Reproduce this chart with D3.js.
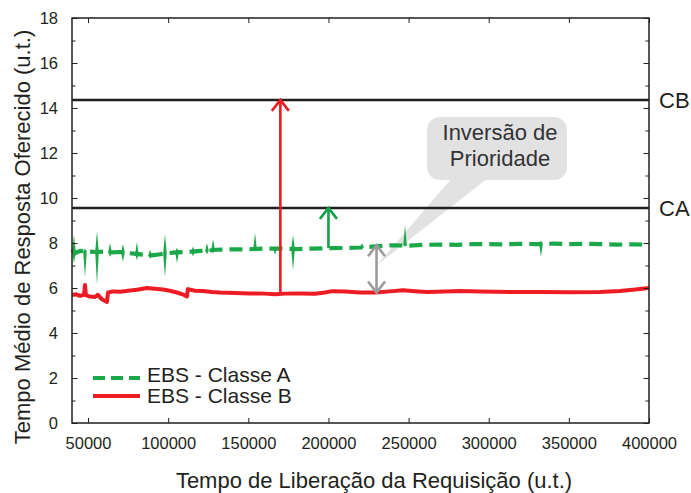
<!DOCTYPE html>
<html>
<head>
<meta charset="utf-8">
<script src="https://cdn.jsdelivr.net/npm/d3@7"></script>
<style>
  body { margin: 0; background: #fff; }
  svg { display: block; }
  text { font-family: "Liberation Sans", Arial, Helvetica, sans-serif; fill: #231f20; }
</style>
</head>
<body>
<svg id="chart" width="691" height="493"></svg>
<script>
// Mean offered response time, class B (solid red)
const classB = [
  [40000, 5.69], [42500, 5.72], [45000, 5.65], [47500, 5.70], [48100, 6.13], [48700, 5.68],
  [51200, 5.62], [54350, 5.60], [56000, 5.70], [58700, 5.50], [61800, 5.38], [62500, 5.80],
  [65600, 5.85], [70000, 5.83], [75000, 5.88], [80500, 5.92], [86800, 6.00], [91800, 5.97],
  [96800, 5.93], [101000, 5.88], [105500, 5.80], [109000, 5.72], [111700, 5.62], [112300, 5.95],
  [116700, 5.88], [121700, 5.87], [127300, 5.82], [132300, 5.80], [141700, 5.78], [151000, 5.76],
  [160400, 5.75], [166600, 5.72], [173000, 5.75], [182300, 5.76], [191600, 5.74], [197900, 5.80],
  [202200, 5.86], [210300, 5.84], [219700, 5.80], [229000, 5.80], [238400, 5.85], [246500, 5.90],
  [254000, 5.86], [261500, 5.82], [272700, 5.84], [282100, 5.87], [294600, 5.84], [313300, 5.82],
  [332000, 5.82], [350700, 5.81], [369400, 5.82], [381900, 5.87], [391300, 5.93], [400000, 6.00]
];

// Mean offered response time, class A (dashed green)
const classA = [
  [40000, 7.70], [42000, 7.55], [45000, 7.65], [50000, 7.62], [55000, 7.60], [60000, 7.62],
  [65000, 7.58], [70000, 7.60], [75000, 7.55], [80000, 7.52], [85000, 7.48], [90000, 7.45],
  [95000, 7.50], [100000, 7.55], [105000, 7.58], [110000, 7.60], [115000, 7.62], [120000, 7.65],
  [125000, 7.66], [130000, 7.70], [140000, 7.72], [150000, 7.72], [160000, 7.75], [170000, 7.75],
  [180000, 7.73], [190000, 7.75], [200000, 7.77], [210000, 7.78], [220000, 7.80], [230000, 7.85],
  [240000, 7.90], [250000, 7.88], [260000, 7.92], [270000, 7.93], [280000, 7.92], [290000, 7.95],
  [300000, 7.95], [310000, 7.94], [320000, 7.96], [330000, 7.95], [340000, 7.97], [350000, 7.95],
  [360000, 7.96], [370000, 7.95], [380000, 7.93], [390000, 7.94], [400000, 7.93]
];

// Short excursions of class A: [time, peak, trough]
const classASpikes = [
  [41250, 8.36, 7.10], [48100, 7.75, 6.49], [55600, 8.53, 6.18], [63700, 8.00, 7.38],
  [71800, 7.96, 7.16], [80500, 8.04, 7.24], [88700, 7.70, 7.30], [98000, 8.40, 6.49],
  [105500, 7.80, 7.10], [115500, 7.85, 7.40], [124200, 8.00, 7.50], [128000, 8.18, 7.55],
  [154200, 8.44, 7.65], [166700, 7.80, 7.47], [177900, 8.36, 6.80], [221000, 8.00, 7.75],
  [247800, 8.80, 7.85], [332600, 8.10, 7.38]
];

// Response-time bounds per class
const boundLabels = ["CB", "CA"];
const boundValues = [14.36, 9.56];

// Annotation arrows: time, from value, to value, colour, double-headed
const arrowTimes  = [170000, 200000, 230000];
const arrowFrom   = [5.78, 7.77, 5.80];
const arrowTo     = [14.36, 9.56, 7.90];
const arrowColors = ["#ed1c24", "#15a04a", "#9b9b9b"];
const arrowDouble = [false, false, true];

const xTickValues = [50000, 100000, 150000, 200000, 250000, 300000, 350000, 400000];
const yTickValues = d3.range(0, 19, 1);

const seriesNames = ["EBS - Classe A", "EBS - Classe B"];
const calloutLines = ["Inversão de", "Prioridade"];

const plot = { left: 72, right: 649, top: 18, bottom: 423 };
const GREEN = "#1aa84b", RED = "#ed1c24", INK = "#231f20";

const svg = d3.select("#chart");
const x = d3.scaleLinear().domain([40000, 400000]).range([plot.left, plot.right]);
const y = d3.scaleLinear().domain([0, 18]).range([plot.bottom, plot.top]);

// Callout bubble (behind the data)
const callout = svg.append("g");
callout.append("path")
  .attr("d", `M452,178 L488,178 L${x(230000)},${y(7.0)} Z`)
  .attr("fill", "#e2e2e3");
callout.append("rect")
  .attr("x", 427).attr("y", 117).attr("width", 140).attr("height", 63)
  .attr("rx", 13).attr("fill", "#e2e2e3");
callout.selectAll("text").data(calloutLines).join("text")
  .attr("x", 500).attr("y", (d, i) => 140 + i * 26)
  .attr("text-anchor", "middle")
  .attr("font-size", 22)
  .style("fill", "#333")
  .text(d => d);

// Bound lines
svg.append("g").selectAll("line").data(boundValues).join("line")
  .attr("x1", plot.left).attr("x2", plot.right)
  .attr("y1", d => y(d)).attr("y2", d => y(d))
  .attr("stroke", INK).attr("stroke-width", 2.5);
svg.append("g").selectAll("text").data(boundValues).join("text")
  .attr("x", 659).attr("y", d => y(d) + 8)
  .attr("font-size", 22)
  .text((d, i) => boundLabels[i]);

const line = d3.line().x(d => x(d[0])).y(d => y(d[1]));

// Class B
svg.append("path").datum(classB)
  .attr("d", line)
  .attr("fill", "none").attr("stroke", RED).attr("stroke-width", 4)
  .attr("stroke-linejoin", "round");

// Class A excursions
function baseAt(t) {
  const i = d3.bisector(d => d[0]).left(classA, t);
  if (i <= 0) return classA[0][1];
  if (i >= classA.length) return classA[classA.length - 1][1];
  const a = classA[i - 1], b = classA[i];
  return a[1] + (b[1] - a[1]) * (t - a[0]) / (b[0] - a[0]);
}
svg.append("g").selectAll("path").data(classASpikes).join("path")
  .attr("d", d => {
    const cx = x(d[0]), yb = y(baseAt(d[0]));
    return `M${cx - 1.8},${yb} L${cx},${y(d[1])} L${cx + 1.8},${yb} L${cx},${y(d[2])} Z`;
  })
  .attr("fill", GREEN);

// Class A
svg.append("path").datum(classA)
  .attr("d", line)
  .attr("fill", "none").attr("stroke", GREEN).attr("stroke-width", 4.2)
  .attr("stroke-dasharray", "13,7");

// Arrows
function chevron(g, cx, cy, dir, color) {
  g.append("path")
    .attr("d", `M${cx - 8.5},${cy + dir * 11} L${cx},${cy} L${cx + 8.5},${cy + dir * 11}`)
    .attr("fill", "none").attr("stroke", color).attr("stroke-width", 2.6)
    .attr("stroke-linejoin", "miter");
}
arrowTimes.forEach((t, i) => {
  const g = svg.append("g");
  const cx = x(t);
  const y0 = y(arrowFrom[i]), y1 = y(arrowTo[i]);
  g.append("line")
    .attr("x1", cx).attr("x2", cx).attr("y1", y0).attr("y2", y1)
    .attr("stroke", arrowColors[i]).attr("stroke-width", 2.6);
  chevron(g, cx, y1, 1, arrowColors[i]);
  if (arrowDouble[i]) chevron(g, cx, y0, -1, arrowColors[i]);
});

// Frame
svg.append("rect")
  .attr("x", plot.left).attr("y", plot.top)
  .attr("width", plot.right - plot.left).attr("height", plot.bottom - plot.top)
  .attr("fill", "none").attr("stroke", INK).attr("stroke-width", 1.5);

// Inward ticks on all four sides
const tickLen = v => (v % 2 === 0 ? 5.5 : 3.5);
const bottomAxis = d3.axisBottom(x).tickValues(xTickValues).tickSize(-5).tickFormat(d3.format("d")).tickPadding(14);
const topAxis = d3.axisTop(x).tickValues(xTickValues).tickSize(-5).tickFormat("");
const gx = svg.append("g").attr("transform", `translate(0,${plot.bottom})`).call(bottomAxis);
const gxt = svg.append("g").attr("transform", `translate(0,${plot.top})`).call(topAxis);
const leftAxis = d3.axisLeft(y).tickValues(yTickValues).tickSize(0).tickPadding(14)
  .tickFormat(d => (d % 2 === 0 ? d : ""));
const rightAxis = d3.axisRight(y).tickValues(yTickValues).tickSize(0).tickFormat("");
const gy = svg.append("g").attr("transform", `translate(${plot.left},0)`).call(leftAxis);
const gyr = svg.append("g").attr("transform", `translate(${plot.right},0)`).call(rightAxis);
gy.selectAll(".tick line").attr("x2", d => tickLen(d));
gyr.selectAll(".tick line").attr("x2", d => -tickLen(d));
[gx, gxt, gy, gyr].forEach(g => {
  g.select(".domain").remove();
  g.selectAll(".tick line").attr("stroke", INK).attr("stroke-width", 1);
  g.selectAll(".tick text")
    .attr("font-size", 16.5)
    .attr("font-family", "'Liberation Sans', Arial, sans-serif")
    .style("fill", INK);
});

// Axis titles
svg.append("text")
  .attr("x", 374).attr("y", 488)
  .attr("text-anchor", "middle").attr("font-size", 22)
  .text("Tempo de Liberação da Requisição (u.t.)");
svg.append("text")
  .attr("transform", "translate(30,237) rotate(-90)")
  .attr("text-anchor", "middle").attr("font-size", 22)
  .text("Tempo Médio de Resposta Oferecido (u.t.)");

// Legend
const legend = svg.append("g");
const legendColors = [GREEN, RED];
const legendDash = ["12,6", null];
const legendLineY = [378, 396];
const legendTextY = [382, 403];
seriesNames.forEach((name, i) => {
  legend.append("line")
    .attr("x1", 93).attr("x2", 140).attr("y1", legendLineY[i]).attr("y2", legendLineY[i])
    .attr("stroke", legendColors[i]).attr("stroke-width", 4)
    .attr("stroke-dasharray", legendDash[i]);
  legend.append("text")
    .attr("x", 147).attr("y", legendTextY[i])
    .attr("font-size", 21)
    .text(name);
});
</script>
</body>
</html>
